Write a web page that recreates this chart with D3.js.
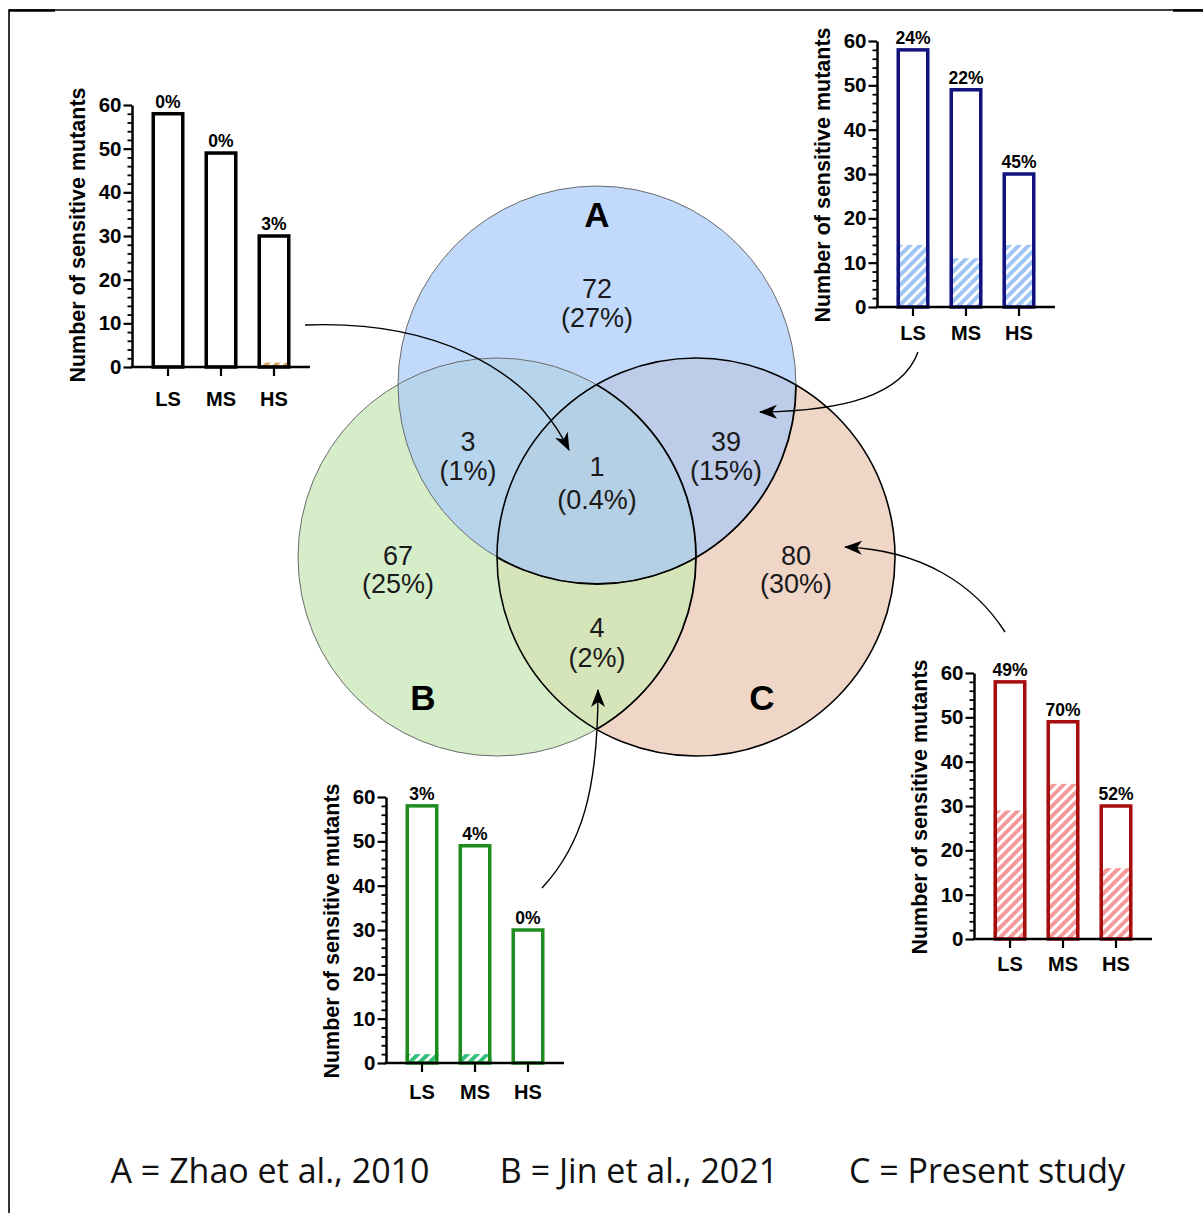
<!DOCTYPE html>
<html><head><meta charset="utf-8">
<script src="https://cdn.jsdelivr.net/npm/d3@7"></script>
<style>body{margin:0;background:#fff} svg{display:block}</style>
</head><body>
<svg id="chart" width="1203" height="1213"></svg>
<script>
// ---------- data ----------
const groups = ["LS", "MS", "HS"];
const totals = [58, 49, 30];
const yTicks = [0, 10, 20, 30, 40, 50, 60];
const centerCounts = [0, 0, 1];
const centerPct = ["0%", "0%", "3%"];
const acCounts = [14, 11, 14];
const acPct = ["24%", "22%", "45%"];
const cOnlyCounts = [29, 35, 16];
const cOnlyPct = ["49%", "70%", "52%"];
const bcCounts = [2, 2, 0];
const bcPct = ["3%", "4%", "0%"];
const yTitle = "Number of sensitive mutants";
const setNames = ["A", "B", "C"];
const regionKeys = ["A", "B", "C", "AB", "AC", "BC", "ABC"];
const regionCounts = [72, 67, 80, 3, 39, 4, 1];
const regionPct = ["(27%)", "(25%)", "(30%)", "(1%)", "(15%)", "(2%)", "(0.4%)"];
const legendItems = ["A = Zhao et al., 2010", "B = Jin et al., 2021", "C = Present study"];

// ---------- setup ----------
const svg = d3.select("#chart");
const W = 1203, H = 1213;
const defs = svg.append("defs");
const FONT = "'Liberation Sans', Arial, Helvetica, sans-serif";

// frame
svg.append("path").attr("d", `M9,${H} L9,10 L${W},10`).attr("fill", "none").attr("stroke", "#000").attr("stroke-width", 1.6);
svg.append("line").attr("x1", 9).attr("x2", 55).attr("y1", 10.5).attr("y2", 10.5).attr("stroke", "#000").attr("stroke-width", 2.5);
svg.append("line").attr("x1", 1173).attr("x2", W).attr("y1", 10.5).attr("y2", 10.5).attr("stroke", "#000").attr("stroke-width", 2.5);

// ---------- Venn ----------
const V = {cx: 597, cy: 471, r: 199};
const circ = {
  A: {x: V.cx, y: V.cy - 86},
  B: {x: V.cx - 100, y: V.cy + 86},
  C: {x: V.cx + 99, y: V.cy + 86}
};
const regionFill = {A: "#c1d9fa", B: "#d6edca", C: "#f0d6c6", AB: "#b6d4ec", AC: "#bccce9", BC: "#d5e4b9", ABC: "#b5cfe4"};
setNames.forEach(k => {
  defs.append("clipPath").attr("id", "clip" + k)
    .append("circle").attr("cx", circ[k].x).attr("cy", circ[k].y).attr("r", V.r);
});
const vg = svg.append("g");
setNames.forEach(k => vg.append("circle").attr("cx", circ[k].x).attr("cy", circ[k].y).attr("r", V.r).attr("fill", regionFill[k]));
[["A", "B"], ["A", "C"], ["B", "C"]].forEach(([p, q]) => {
  vg.append("g").attr("clip-path", `url(#clip${q})`)
    .append("circle").attr("cx", circ[p].x).attr("cy", circ[p].y).attr("r", V.r).attr("fill", regionFill[p + q]);
});
vg.append("g").attr("clip-path", "url(#clipC)").append("g").attr("clip-path", "url(#clipB)")
  .append("circle").attr("cx", circ.A.x).attr("cy", circ.A.y).attr("r", V.r).attr("fill", regionFill.ABC);
["A", "B"].forEach(k => vg.append("circle").attr("cx", circ[k].x).attr("cy", circ[k].y).attr("r", V.r)
  .attr("fill", "none").attr("stroke", "#6b6b6b").attr("stroke-width", 1));
const inC = vg.append("g").attr("clip-path", "url(#clipC)");
["A", "B"].forEach(k => inC.append("circle").attr("cx", circ[k].x).attr("cy", circ[k].y).attr("r", V.r)
  .attr("fill", "none").attr("stroke", "#000").attr("stroke-width", 1.8));
vg.append("circle").attr("cx", circ.C.x).attr("cy", circ.C.y).attr("r", V.r)
  .attr("fill", "none").attr("stroke", "#000").attr("stroke-width", 1.6);

const regionOffset = {A: [0, -168, 29], B: [-199, 99, 28], C: [199, 99, 28], AB: [-129, -15, 29], AC: [129, -15, 29], BC: [0, 172, 30], ABC: [0, 12, 33]};
regionKeys.forEach((k, i) => {
  const [dx, dy, gap] = regionOffset[k];
  const t = vg.append("text").attr("text-anchor", "middle")
    .attr("font-family", FONT).attr("font-size", 27).attr("fill", "#1a1a1a");
  t.append("tspan").attr("x", V.cx + dx).attr("y", V.cy + dy - gap / 2).attr("dominant-baseline", "central").text(regionCounts[i]);
  t.append("tspan").attr("x", V.cx + dx).attr("y", V.cy + dy + gap / 2).attr("dominant-baseline", "central").text(regionPct[i]);
});
const setLabelOffset = {A: [0, -257], B: [-174, 226], C: [165, 226]};
setNames.forEach(k => {
  vg.append("text").attr("x", V.cx + setLabelOffset[k][0]).attr("y", V.cy + setLabelOffset[k][1])
    .attr("text-anchor", "middle").attr("dominant-baseline", "central")
    .attr("font-family", FONT).attr("font-weight", "bold").attr("font-size", 35).attr("fill", "#000").text(k);
});

// ---------- bar charts ----------
const charts = [
  {id: "c1", x0: 132, y0: 367, axH: 262, xGap: 16, counts: centerCounts, pct: centerPct, stroke: "#000000", hatch: "#d9a45e"},
  {id: "c2", x0: 877, y0: 307, axH: 266, xGap: 10, counts: acCounts, pct: acPct, stroke: "#12127f", hatch: "#9ec5f3"},
  {id: "c3", x0: 974, y0: 939, axH: 266, xGap: 9, counts: cOnlyCounts, pct: cOnlyPct, stroke: "#a60e0e", hatch: "#f59a9a"},
  {id: "c4", x0: 386, y0: 1063, axH: 266, xGap: 13, counts: bcCounts, pct: bcPct, stroke: "#1f8c1f", hatch: "#33c07c"}
];
const AX_W = 178;

charts.forEach(c => {
  const pat = defs.append("pattern").attr("id", "hatch" + c.id).attr("patternUnits", "userSpaceOnUse")
    .attr("width", 7).attr("height", 7).attr("patternTransform", "rotate(45)");
  pat.append("rect").attr("width", 7).attr("height", 7).attr("fill", c.hatch);
  pat.append("rect").attr("width", 3).attr("height", 7).attr("fill", "#fff");

  const y = d3.scaleLinear().domain([0, 60]).range([c.y0, c.y0 - c.axH]);
  const x = d3.scaleBand().domain(groups).range([c.x0 + 19.5, c.x0 + 158.5]).paddingInner(0.377).paddingOuter(0);
  const g = svg.append("g");
  const bw = x.bandwidth();

  g.selectAll("rect.h").data(groups).join("rect").attr("class", "h")
    .attr("x", d => x(d)).attr("width", bw)
    .attr("y", (d, i) => Math.min(y(c.counts[i]), c.y0 - 1.5))
    .attr("height", (d, i) => Math.max(c.y0 - y(c.counts[i]), 1.5))
    .attr("fill", `url(#hatch${c.id})`);
  g.selectAll("rect.o").data(groups).join("rect").attr("class", "o")
    .attr("x", d => x(d) + 1.75).attr("width", bw - 3.5)
    .attr("y", (d, i) => y(totals[i]))
    .attr("height", (d, i) => c.y0 - y(totals[i]))
    .attr("fill", "none").attr("stroke", c.stroke).attr("stroke-width", 3.5);
  g.selectAll("text.p").data(groups).join("text").attr("class", "p")
    .attr("x", d => x(d) + bw / 2).attr("y", (d, i) => y(totals[i]) - 6)
    .attr("text-anchor", "middle").attr("font-family", FONT).attr("font-weight", "bold")
    .attr("font-size", 17.5).attr("fill", "#000").text((d, i) => c.pct[i]);

  const minor = d3.range(0, 61, 2).filter(v => v % 10 !== 0);
  g.append("g").attr("transform", `translate(${c.x0},0)`)
    .call(d3.axisLeft(y).tickValues(minor).tickSize(4.5).tickFormat(""))
    .call(a => a.select(".domain").remove())
    .call(a => a.selectAll("line").attr("stroke", "#000").attr("stroke-width", 1.8));
  g.append("g").attr("transform", `translate(${c.x0},0)`)
    .call(d3.axisLeft(y).tickValues(yTicks).tickSize(8.5).tickSizeOuter(0).tickPadding(2))
    .call(a => a.select(".domain").attr("stroke", "#000").attr("stroke-width", 2.5))
    .call(a => a.selectAll("line").attr("stroke", "#000").attr("stroke-width", 2.2))
    .call(a => a.selectAll("text").attr("font-family", FONT).attr("font-weight", "bold").attr("font-size", 20.5).attr("fill", "#000"));
  g.append("g").attr("transform", `translate(0,${c.y0})`)
    .call(d3.axisBottom(x).tickSize(9).tickPadding(c.xGap))
    .call(a => a.select(".domain").remove())
    .call(a => a.selectAll("line").attr("stroke", "#000").attr("stroke-width", 2.2))
    .call(a => a.selectAll("text").attr("font-family", FONT).attr("font-weight", "bold").attr("font-size", 20).attr("fill", "#000"));
  g.append("line").attr("x1", c.x0 - 1.25).attr("x2", c.x0 + AX_W).attr("y1", c.y0).attr("y2", c.y0)
    .attr("stroke", "#000").attr("stroke-width", 2.5);
  g.append("text").attr("transform", `translate(${c.x0 - 54},${c.y0 - 132}) rotate(-90)`)
    .attr("text-anchor", "middle").attr("dominant-baseline", "central")
    .attr("font-family", FONT).attr("font-weight", "bold").attr("font-size", 21.5).attr("fill", "#000").text(yTitle);
});

// ---------- arrows ----------
defs.append("marker").attr("id", "arrow").attr("markerUnits", "userSpaceOnUse")
  .attr("markerWidth", 22).attr("markerHeight", 18).attr("refX", 17).attr("refY", 7)
  .attr("orient", "auto").append("path").attr("d", "M0,0 L18,7 L0,14 L5,7 Z").attr("fill", "#000");
const arrows = [
  [[305, 325], [425, 320], [525, 362], [569, 450]],
  [[918, 352], [902, 396], [842, 411], [760, 412]],
  [[1005, 632], [975, 585], [922, 550], [845, 547]],
  [[542, 888], [582, 845], [598, 790], [598, 690]]
];
arrows.forEach(p => {
  const path = d3.path();
  path.moveTo(...p[0]);
  path.bezierCurveTo(...p[1], ...p[2], ...p[3]);
  svg.append("path").attr("d", path.toString()).attr("fill", "none").attr("stroke", "#000")
    .attr("stroke-width", 1.4).attr("marker-end", "url(#arrow)");
});

// ---------- legend ----------
const legendX = [270, 639, 987];
svg.selectAll("text.leg").data(legendItems).join("text").attr("class", "leg")
  .attr("x", (d, i) => legendX[i]).attr("y", 1183).attr("text-anchor", "middle")
  .attr("font-family", "'Open Sans', 'Noto Sans', sans-serif").attr("font-size", 34).attr("fill", "#111").text(d => d);
</script>
</body></html>
